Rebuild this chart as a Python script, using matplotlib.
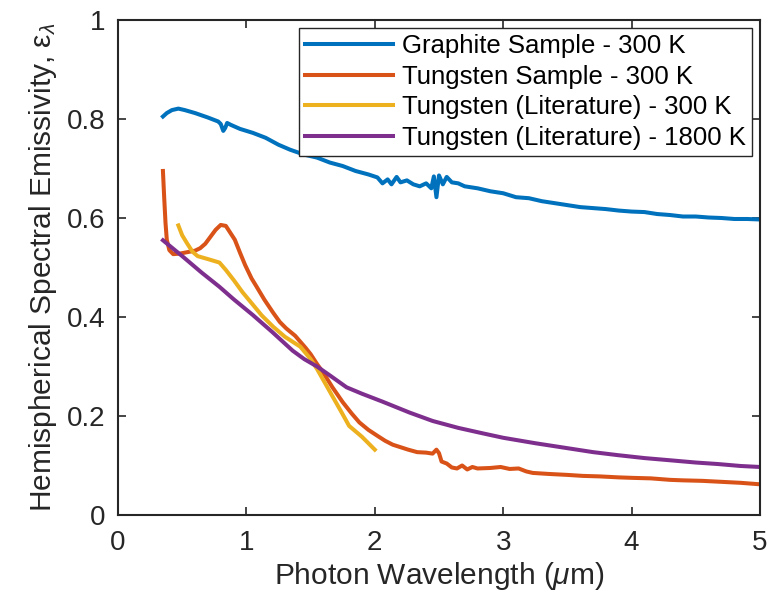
import matplotlib
matplotlib.use("Agg")
import matplotlib.pyplot as plt

plt.rcParams['font.family'] = ['Liberation Sans', 'DejaVu Sans']
plt.rcParams['mathtext.fontset'] = 'custom'
plt.rcParams['mathtext.rm'] = 'Liberation Sans'
plt.rcParams['mathtext.it'] = 'Liberation Sans:italic'

# Graphite Sample - 300 K
gr_x = [0.35, 0.38, 0.42, 0.47, 0.52, 0.60, 0.70, 0.78, 0.80, 0.82, 0.835, 0.85, 0.88, 0.95,
        1.05, 1.15, 1.25, 1.34, 1.45, 1.55, 1.65, 1.75, 1.85, 1.95, 2.02, 2.06, 2.10, 2.13,
        2.17, 2.20, 2.25, 2.30, 2.35, 2.40, 2.44, 2.46, 2.48, 2.50, 2.53, 2.56, 2.60, 2.65,
        2.70, 2.80, 2.90, 3.00, 3.10, 3.20, 3.30, 3.40, 3.50, 3.60, 3.70, 3.80, 3.90, 4.00,
        4.10, 4.20, 4.30, 4.40, 4.50, 4.60, 4.70, 4.80, 4.90, 5.00]
gr_y = [0.805, 0.812, 0.818, 0.821, 0.818, 0.812, 0.803, 0.795, 0.790, 0.776, 0.782, 0.792,
        0.788, 0.780, 0.772, 0.762, 0.748, 0.738, 0.728, 0.722, 0.712, 0.705, 0.695, 0.688,
        0.682, 0.670, 0.678, 0.668, 0.683, 0.672, 0.676, 0.668, 0.664, 0.670, 0.660, 0.684,
        0.642, 0.686, 0.668, 0.683, 0.672, 0.670, 0.664, 0.660, 0.654, 0.650, 0.642, 0.640,
        0.634, 0.630, 0.626, 0.622, 0.620, 0.618, 0.615, 0.613, 0.612, 0.608, 0.606, 0.603,
        0.603, 0.601, 0.600, 0.598, 0.598, 0.597]

# Tungsten Sample - 300 K
ws_x = [0.35, 0.36, 0.37, 0.38, 0.40, 0.43, 0.48, 0.54, 0.60, 0.64, 0.68, 0.72, 0.76, 0.80,
        0.84, 0.87, 0.91, 0.95, 0.99, 1.04, 1.08, 1.14, 1.21, 1.26, 1.31, 1.38, 1.42, 1.46,
        1.50, 1.55, 1.60, 1.67, 1.75, 1.82, 1.88, 1.95, 2.02, 2.08, 2.14, 2.20, 2.26, 2.33,
        2.40, 2.45, 2.48, 2.50, 2.52, 2.56, 2.60, 2.64, 2.68, 2.72, 2.76, 2.80, 2.90, 2.98,
        3.05, 3.12, 3.18, 3.23, 3.35, 3.50, 3.62, 3.75, 3.90, 4.01, 4.15, 4.30, 4.40, 4.55,
        4.70, 4.85, 5.00]
ws_y = [0.695, 0.640, 0.590, 0.556, 0.535, 0.527, 0.528, 0.531, 0.534, 0.539, 0.548, 0.562,
        0.576, 0.586, 0.584, 0.572, 0.556, 0.530, 0.505, 0.478, 0.461, 0.435, 0.408, 0.390,
        0.377, 0.362, 0.350, 0.338, 0.325, 0.305, 0.287, 0.258, 0.228, 0.205, 0.187, 0.172,
        0.160, 0.150, 0.142, 0.137, 0.132, 0.127, 0.126, 0.124, 0.132, 0.125, 0.108, 0.104,
        0.096, 0.094, 0.100, 0.092, 0.097, 0.094, 0.095, 0.097, 0.093, 0.094, 0.088, 0.085,
        0.083, 0.081, 0.079, 0.078, 0.076, 0.075, 0.074, 0.071, 0.070, 0.069, 0.067, 0.065,
        0.062]

# Tungsten (Literature) - 300 K
wl_x = [0.47, 0.50, 0.54, 0.58, 0.62, 0.70, 0.79, 0.84, 0.90, 0.97, 1.05, 1.12, 1.21, 1.30,
        1.42, 1.50, 1.55, 1.62, 1.67, 1.74, 1.80, 1.90, 2.00]
wl_y = [0.585, 0.565, 0.548, 0.532, 0.523, 0.517, 0.510, 0.495, 0.475, 0.450, 0.425, 0.403,
        0.380, 0.360, 0.340, 0.315, 0.295, 0.263, 0.240, 0.208, 0.180, 0.158, 0.132]

# Tungsten (Literature) - 1800 K
wh_x = [0.35, 0.50, 0.65, 0.79, 0.90, 1.05, 1.20, 1.36, 1.45, 1.55, 1.65, 1.78, 1.90, 2.06,
        2.27, 2.45, 2.65, 2.84, 3.00, 3.25, 3.50, 3.70, 3.89, 4.10, 4.28, 4.50, 4.67, 4.85,
        5.00]
wh_y = [0.555, 0.523, 0.490, 0.461, 0.436, 0.404, 0.370, 0.332, 0.315, 0.300, 0.282, 0.258,
        0.245, 0.229, 0.207, 0.190, 0.176, 0.165, 0.156, 0.145, 0.135, 0.127, 0.121, 0.115,
        0.111, 0.106, 0.103, 0.099, 0.097]

labels = ['Graphite Sample - 300 K', 'Tungsten Sample - 300 K',
          'Tungsten (Literature) - 300 K', 'Tungsten (Literature) - 1800 K']
colors = ['#0072BD', '#D95319', '#EDB120', '#7E2F8E']

fig = plt.figure(figsize=(7.7, 6.03), dpi=100)
ax = fig.add_axes([118/770, 88/603, 642/770, 495/603])

series = [(gr_x, gr_y), (ws_x, ws_y), (wl_x, wl_y), (wh_x, wh_y)]
for (xs, ys), lab, c in zip(series, labels, colors):
    ax.plot(xs, ys, color=c, lw=2.9, label=lab, solid_joinstyle='round')

ax.set_xlim(0, 5)
ax.set_ylim(0, 1)
ax.set_xticks([0, 1, 2, 3, 4, 5])
ax.set_yticks([0, 0.2, 0.4, 0.6, 0.8, 1])
ax.set_xticklabels(['0', '1', '2', '3', '4', '5'])
ax.set_yticklabels(['0', '0.2', '0.4', '0.6', '0.8', '1'])
ax.tick_params(direction='in', length=6, width=1.2, colors='#262626', labelsize=20,
               top=True, right=True)
ax.tick_params(axis='x', pad=11)
ax.tick_params(axis='y', pad=9)
for s in ax.spines.values():
    s.set_color('#262626')
    s.set_linewidth(1.5)

ax.set_xlabel('Photon Wavelength ($\\mu$m)', fontsize=21.5, color='#262626', labelpad=3)
ax.set_ylabel('Hemispherical Spectral Emissivity, ε$_{\\lambda}$', fontsize=21.5,
              color='#262626', labelpad=6)

leg = ax.legend(loc='upper right', bbox_to_anchor=(752/770, (603-28)/603),
                bbox_transform=fig.transFigure, fontsize=18.5, handlelength=3.4,
                handletextpad=0.35, borderpad=0.25, labelspacing=0.25, fancybox=False,
                framealpha=1, edgecolor='#262626', borderaxespad=0)
leg.get_frame().set_linewidth(1.0)
for t in leg.get_texts():
    t.set_color('#000000')

fig.savefig('out.png', dpi=100)
